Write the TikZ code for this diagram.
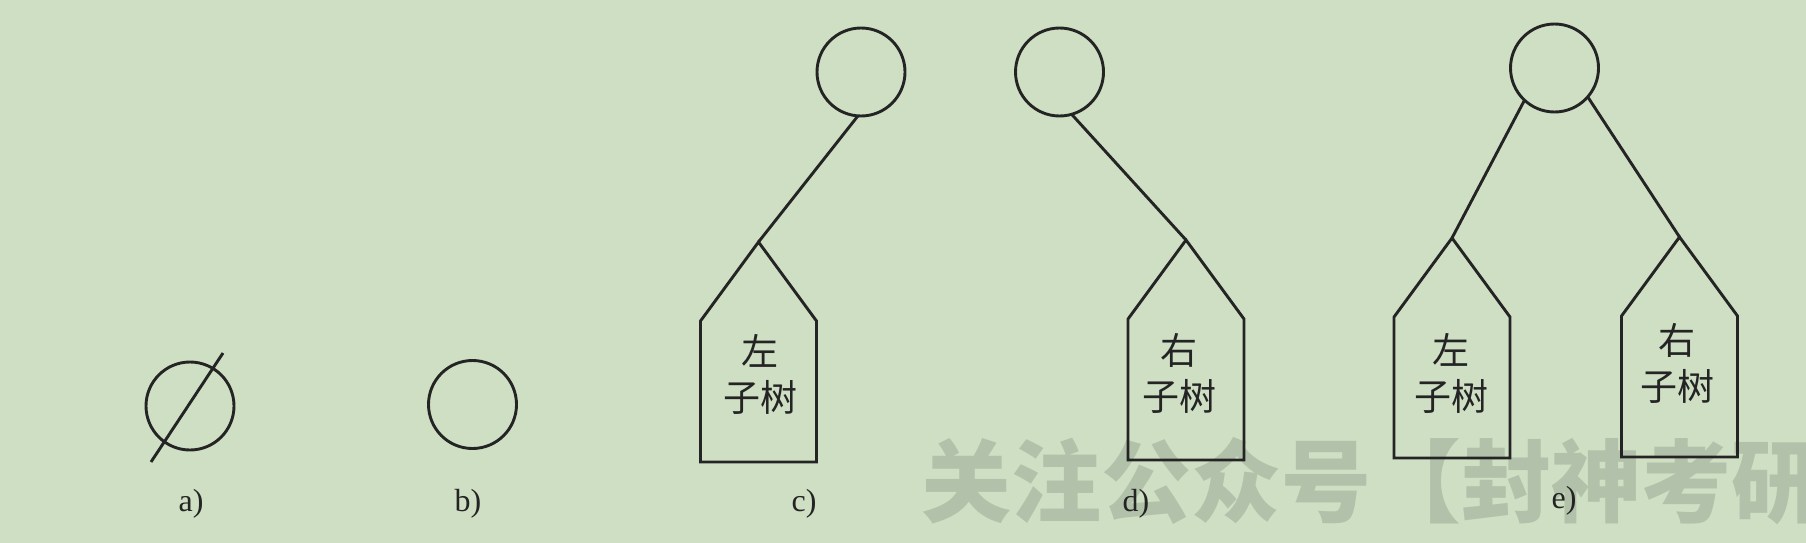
\documentclass[tikz,border=0pt]{standalone}
\usepackage{fontspec}
\setmainfont{Liberation Serif}
\newfontfamily\cjkfont{Noto Sans CJK SC}
\definecolor{bg}{RGB}{207,223,196}
\definecolor{ink}{RGB}{36,36,36}
\definecolor{wm}{RGB}{178,194,170}
\begin{document}
\begin{tikzpicture}[x=1pt,y=-1pt,
  lw/.style={line width=2.9pt, draw=ink},
  nodecirc/.style={circle, lw, minimum size=88pt, inner sep=0pt, outer sep=0pt},
  conn/.style={lw},
  treetext/.style={font=\cjkfont\fontsize{37}{46}\selectfont, text=ink, align=center, inner sep=0pt},
  caption/.style={font=\fontsize{32}{36}\selectfont, text=ink, anchor=base, inner sep=0pt},
  subtree/.pic={\draw[lw, line join=miter] (0,0) -- (-58,79) -- (-58,220) -- (58,220) -- (58,79) -- cycle;},
  watermark/.style={font=\cjkfont\bfseries\fontsize{90}{90}\selectfont, text=wm, anchor=base west, inner sep=0pt}
]
\useasboundingbox (0,0) rectangle (1806,543);
\fill[bg] (0,0) rectangle (1806,543);

% watermark
\node[watermark] (wmtext) at (921,515) {关注公众号【封神考研};

% a) empty tree
\node[nodecirc] (ca) at (190,406) {};
\coordinate (slashlo) at (151,462);
\coordinate (slashhi) at (223,353);
\draw[conn] (slashlo) -- (slashhi);
\node[caption] (la) at (191,511) {a)};

% b) single node
\node[nodecirc] (cb) at (472.5,404.5) {};
\node[caption] (lb) at (468,511) {b)};

% c) left subtree only
\node[nodecirc] (cc) at (861,72) {};
\coordinate (apc) at (758.5,242);
\pic at (apc) {subtree};
\draw[conn] (cc.266) -- (apc);
\node[treetext] (tc) at (760,374) {左\\子树};
\node[caption] (lc) at (804,511) {c)};

% d) right subtree only
\node[nodecirc] (cd) at (1059.5,72) {};
\coordinate (apd) at (1186,240);
\pic at (apd) {subtree};
\draw[conn] (cd.286) -- (apd);
\node[treetext] (td) at (1179,373) {右\\子树};
\node[caption] (ld) at (1136,511) {d)};

% e) both subtrees
\node[nodecirc] (ce) at (1554.5,68) {};
\coordinate (apel) at (1452,238);
\coordinate (aper) at (1679.5,237);
\pic at (apel) {subtree};
\pic at (aper) {subtree};
\draw[conn] (ce.227) -- (apel);
\draw[conn] (ce.319) -- (aper);
\node[treetext] (tel) at (1451,373) {左\\子树};
\node[treetext] (ter) at (1677,363) {右\\子树};
\node[caption] (le) at (1564,508) {e)};
\end{tikzpicture}
\end{document}
